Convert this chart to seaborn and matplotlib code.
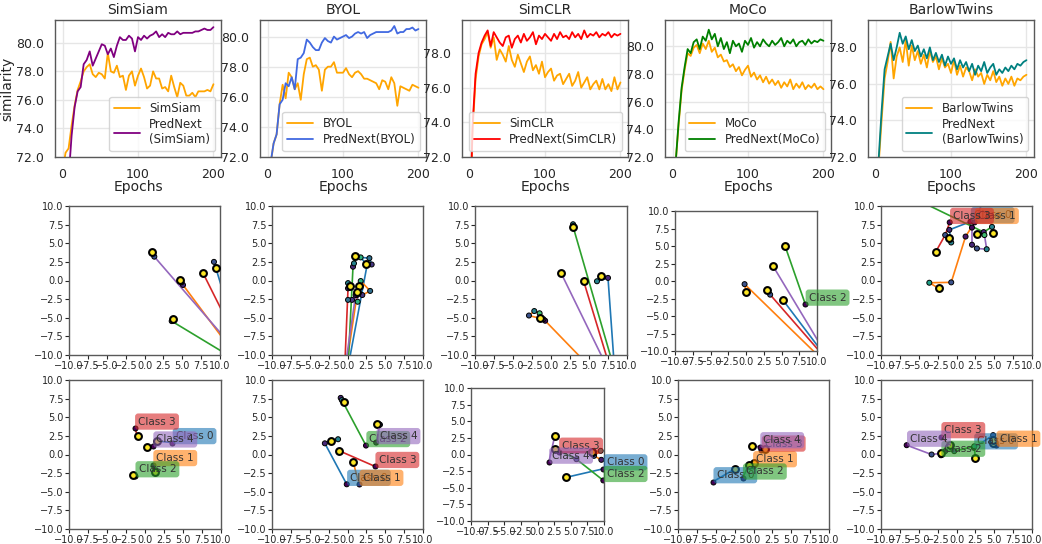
import numpy as np
import pandas as pd
import seaborn as sns
import matplotlib.pyplot as plt
from matplotlib.ticker import FormatStrFormatter, MultipleLocator

sns.set_theme(style="whitegrid", rc={"axes.edgecolor": ".35", "axes.linewidth": 1.0, "grid.color": ".9"})
plt.rcParams["font.family"] = ["DejaVu Sans"]

# ---- top row: similarity curves (every 4 epochs) ----
epochs = list(range(0, 201, 4))

simsiam = [71.0, 72.3, 72.6, 74.2, 75.6, 76.7, 77.3, 78.0, 78.3, 78.5,
           77.8, 77.6, 77.9, 77.8, 77.5, 79.3, 78.0, 77.9, 78.4, 77.6,
           77.7, 76.7, 77.7, 78.0, 77.0, 77.7, 78.2, 77.6, 76.8, 77.0,
           78.0, 77.5, 77.5, 76.8, 76.9, 76.6, 77.7, 76.9, 76.2, 77.2,
           77.0, 76.3, 76.3, 76.5, 76.2, 76.6, 76.6, 76.6, 76.7, 76.6, 77.1]
prednext_simsiam = [62.0, 66.0, 70.5, 73.5, 75.5, 76.6, 76.9, 78.5, 78.8, 79.4,
                    78.4, 78.9, 79.4, 79.9, 79.8, 79.2, 79.6, 79.0, 79.8, 80.4,
                    80.2, 80.2, 80.5, 80.3, 79.4, 80.4, 80.2, 80.5, 80.3, 80.5,
                    80.6, 80.8, 80.4, 80.6, 80.4, 80.7, 80.6, 80.6, 80.8, 80.6,
                    80.7, 80.7, 80.7, 80.7, 80.8, 80.8, 80.9, 81.0, 80.9, 80.9, 81.1]
byol = [70.0, 71.5, 72.9, 73.5, 75.5, 76.8, 75.9, 77.6, 77.3, 76.5,
        76.9, 75.8, 77.5, 78.5, 78.6, 78.0, 78.1, 77.8, 76.4, 77.8,
        78.0, 78.0, 78.3, 77.6, 77.6, 77.6, 77.9, 77.5, 77.3, 77.6,
        77.7, 77.5, 77.2, 77.2, 77.1, 77.0, 76.9, 76.5, 77.1, 77.0,
        76.5, 77.3, 76.9, 75.4, 76.7, 76.6, 76.5, 76.4, 76.8, 76.7, 76.6]
prednext_byol = [70.0, 71.6, 72.9, 73.5, 75.5, 75.8, 76.9, 76.7, 77.3, 76.5,
                 78.5, 78.6, 78.9, 79.8, 79.6, 79.3, 79.1, 79.1, 79.6, 79.9,
                 79.7, 79.6, 80.0, 79.8, 79.9, 80.0, 80.1, 79.9, 80.0, 80.2,
                 80.3, 80.2, 80.3, 79.9, 80.1, 80.2, 80.3, 80.3, 80.3, 80.3,
                 80.3, 80.4, 80.7, 80.2, 80.3, 80.3, 80.5, 80.5, 80.6, 80.4, 80.5]
simclr = [68.0, 73.5, 76.5, 77.8, 78.5, 78.8, 79.2, 78.3, 78.9, 77.6,
          78.2, 77.9, 77.5, 78.4, 77.6, 77.2, 77.9, 77.4, 76.9, 77.5,
          77.8, 77.0, 77.3, 76.8, 77.5, 76.6, 76.9, 77.1, 76.4, 76.7,
          76.8, 76.2, 76.5, 76.8, 76.1, 76.4, 76.9, 76.0, 76.3, 76.6,
          75.9, 76.2, 76.4, 75.9, 76.5, 75.9, 76.2, 75.8, 76.6, 75.9, 76.3]
prednext_simclr = [67.0, 73.8, 76.8, 78.0, 78.6, 79.0, 79.3, 78.4, 79.2, 78.9,
                   78.6, 78.4, 78.9, 79.0, 78.3, 78.8, 79.0, 78.6, 79.1, 78.7,
                   78.9, 79.2, 78.5, 79.0, 78.8, 79.1, 78.9, 78.7, 79.1, 78.8,
                   79.2, 78.9, 79.0, 78.8, 79.2, 78.9, 79.1, 78.8, 79.3, 78.9,
                   79.1, 79.0, 79.2, 78.9, 79.1, 79.0, 79.2, 78.9, 79.1, 79.0, 79.1]
moco = [66.0, 71.5, 74.3, 76.8, 78.3, 79.5, 79.3, 79.9, 80.1, 79.5,
        80.2, 79.8, 80.4, 79.6, 79.9, 79.2, 79.4, 78.9, 79.0, 78.5,
        78.7, 78.2, 78.5, 77.9, 78.3, 78.6, 77.8, 78.1, 77.6, 77.9,
        77.4, 77.8, 77.3, 77.6, 77.2, 77.5, 77.0, 77.4, 77.1, 77.6,
        76.9, 77.3, 77.0, 77.4, 76.9, 77.2, 77.0, 77.3, 76.9, 77.1, 76.9]
prednext_moco = [66.0, 71.5, 74.5, 77.0, 78.5, 79.8, 79.5, 80.3, 80.5, 79.8,
                 80.7, 80.4, 81.2, 80.5, 80.9, 80.0, 80.6, 79.8, 80.3, 79.5,
                 80.4, 80.0, 80.2, 79.6, 80.4, 80.1, 80.6, 79.9, 80.3, 80.0,
                 80.5, 80.2, 80.0, 80.4, 80.1, 80.3, 80.6, 80.0, 80.4, 80.2,
                 80.5, 80.0, 80.3, 80.4, 80.1, 80.5, 80.2, 80.4, 80.3, 80.5, 80.4]
barlow = [68.0, 71.5, 74.0, 76.3, 77.2, 78.3, 76.3, 77.5, 78.0, 77.2,
          78.4, 77.0, 78.1, 77.3, 77.8, 77.1, 77.6, 76.9, 77.8, 77.2,
          77.5, 76.8, 77.4, 76.9, 77.1, 76.6, 77.3, 76.5, 77.0, 76.4,
          76.9, 76.7, 76.2, 76.8, 76.4, 76.6, 76.0, 76.5, 76.2, 76.7,
          76.1, 76.4, 75.9, 76.3, 76.0, 76.4, 75.9, 76.3, 76.2, 76.4, 76.5]
prednext_barlow = [67.0, 71.8, 74.5, 76.8, 77.5, 78.2, 77.3, 78.0, 78.8, 78.2,
                   78.6, 77.9, 78.4, 77.8, 78.1, 77.5, 77.9, 77.4, 78.0, 77.3,
                   77.7, 77.2, 77.6, 77.0, 77.5, 77.1, 77.4, 76.8, 77.3, 76.9,
                   77.2, 76.7, 77.1, 76.5, 77.0, 76.7, 77.2, 76.6, 76.9, 77.1,
                   76.5, 76.8, 76.6, 76.9, 76.7, 77.0, 76.8, 77.1, 77.0, 77.2, 77.3]

methods = ["SimSiam", "BYOL", "SimCLR", "MoCo", "BarlowTwins"]
base_curves = [simsiam, byol, simclr, moco, barlow]
pred_curves = [prednext_simsiam, prednext_byol, prednext_simclr, prednext_moco, prednext_barlow]
pred_labels = ["PredNext\n(SimSiam)", "PredNext(BYOL)", "PredNext(SimCLR)",
               "PredNext(MoCo)", "PredNext\n(BarlowTwins)"]
pred_colors = ["purple", "royalblue", "red", "green", "teal"]
y_tops = [81.6, 81.1, 79.9, 81.9, 79.5]

# ---- rows 2 and 3: class trajectories, first point carries the label ----
mid_simsiam = [
    [(11.0, -3.5), (9.2, 2.5), (9.5, 1.7)],
    [(11.8, -9.7), (5.1, -0.6), (4.9, -0.25), (4.7, 0.05)],
    [(12.5, -10.9), (3.6, -5.45), (3.8, -5.2)],
    [(12.0, -7.6), (7.75, 1.0)],
    [(12.0, -9.3), (1.3, 3.2), (0.95, 3.85)],
]
mid_byol = [
    [(0.0, -12.0), (2.6, 2.1), (3.2, 2.15), (2.9, 3.0), (1.74, 3.1), (2.5, 2.2)],
    [(-0.23, -12.0), (1.26, -1.95), (1.96, -1.95), (3.0, -1.4), (1.75, -0.07), (1.5, -0.8)],
    [(0.05, -12.0), (0.73, 1.85), (0.86, 2.3), (0.95, 3.3)],
    [(-0.38, -12.0), (0.07, -1.05), (0.07, -0.35), (0.37, -0.7)],
    [(-0.36, -12.0), (1.08, -1.95), (0.6, -2.6), (0.07, -2.6), (1.35, -2.85), (1.26, -1.6)],
]
mid_simclr = [
    [(8.4, -12.5), (7.5, 0.35), (6.05, -0.1), (6.6, 0.55)],
    [(5.5, -12.0), (-0.77, -5.4), (-1.0, -5.2), (-2.9, -4.7), (-2.2, -4.1), (-1.5, -4.4), (-1.43, -5.1)],
    [(8.5, -12.5), (2.97, 7.0), (2.9, 7.55), (2.83, 7.2)],
    [(8.0, -12.5), (4.3, -0.1)],
    [(7.7, -12.3), (1.35, 0.95)],
]
mid_moco = [
    [(11.0, -10.5), (5.15, -2.65)],
    [(10.5, -11.0), (-0.2, -0.45), (0.0, -1.5)],
    [(8.35, -3.3), (5.5, 5.0)],
    [(11.0, -10.8), (3.4, -1.95), (3.0, -1.35)],
    [(11.0, -10.0), (3.8, 2.15)],
]
mid_barlow = [
    [(1.85, 7.9), (-0.95, 6.8), (-0.7, 5.1), (-0.95, 5.7)],
    [(2.4, 7.8), (1.2, 5.9), (-0.7, -0.25), (-3.6, -0.3), (-2.35, -1.05)],
    [(-8.0, 12.2), (3.6, 6.5), (4.7, 7.2), (4.8, 6.4)],
    [(-0.9, 7.8), (-1.5, 6.1), (-2.75, 3.85)],
    [(4.5, 13.0), (2.05, 7.1), (2.05, 4.8), (2.7, 4.3), (4.0, 4.2), (3.7, 6.1), (2.7, 6.3)],
]
bot_simsiam = [
    [(3.6, 1.6), (1.63, 1.8)],
    [(1.05, -1.35), (1.3, -2.3)],
    [(-1.3, -2.85), (-1.6, -2.75)],
    [(-1.35, 3.55), (-0.97, 2.47)],
    [(1.05, 1.15), (0.22, 1.05)],
]
bot_byol = [
    [(-0.1, -4.0), (-3.0, 1.5), (-1.25, 2.05), (-2.15, 1.8)],
    [(1.55, -4.0), (0.73, -0.95)],
    [(2.45, 1.2), (-0.9, 7.6), (-0.75, 7.3), (-0.45, 7.05)],
    [(3.65, -1.6), (-1.1, 0.5)],
    [(3.8, 1.6), (4.3, 4.0), (3.9, 4.05)],
]
bot_simclr = [
    [(9.9, -2.15), (4.25, -3.45)],
    [(10.6, -1.3), (9.6, -0.8), (8.5, -0.2), (9.5, 0.55), (8.2, 0.35)],
    [(9.9, -3.9), (5.85, -0.7), (2.6, 0.85)],
    [(3.2, 0.35), (8.2, 0.35)],
    [(1.7, -1.15), (2.6, 2.8)],
]
bot_moco = [
    [(-5.35, -3.65), (-2.5, -1.95)],
    [(-0.1, -1.5), (0.0, -1.2)],
    [(-1.45, -3.15), (-0.6, -1.35)],
    [(1.05, 0.6), (1.5, 0.8)],
    [(0.85, 1.05), (-0.2, 1.1)],
]
bot_barlow = [
    [(2.3, 0.9), (4.85, 2.6), (4.85, 1.5)],
    [(5.25, 1.25), (4.9, 1.9)],
    [(-2.05, -0.1), (-1.5, 0.45), (-0.3, 0.45), (2.35, 1.1), (2.5, -0.5)],
    [(-2.05, 2.4), (-0.9, 1.25)],
    [(-6.6, 1.25), (-3.3, 0.0), (-2.1, 0.15)],
]
mid_panels = [mid_simsiam, mid_byol, mid_simclr, mid_moco, mid_barlow]
bot_panels = [bot_simsiam, bot_byol, bot_simclr, bot_moco, bot_barlow]
class_names = ["Class 0", "Class 1", "Class 2", "Class 3", "Class 4"]
class_colors = sns.color_palette("tab10", 5)

W, H = 1042, 544
fig = plt.figure(figsize=(W / 100, H / 100), dpi=100)


def px_box(left, top, w, h):
    return [left / W, 1 - (top + h) / H, w / W, h / H]


top_lefts = [55, 260, 462, 665, 868]
for i, name in enumerate(methods):
    ax = fig.add_axes(px_box(top_lefts[i], 20, 166, 137))
    df = pd.DataFrame({"epoch": epochs, "base": base_curves[i], "pred": pred_curves[i]})
    sns.lineplot(data=df, x="epoch", y="base", color="orange", lw=1.3, label=name, ax=ax)
    sns.lineplot(data=df, x="epoch", y="pred", color=pred_colors[i], lw=1.3, label=pred_labels[i], ax=ax)
    ax.set_ylim(72, y_tops[i])
    ax.set_xticks([0, 100, 200])
    ax.yaxis.set_major_locator(MultipleLocator(2))
    ax.yaxis.set_major_formatter(FormatStrFormatter("%.1f"))
    ax.tick_params(labelsize=9, pad=2)
    ax.set_title(name, fontsize=10, pad=4)
    ax.set_xlabel("Epochs", fontsize=10, labelpad=-1)
    ax.set_ylabel("similarity" if i == 0 else "", fontsize=10, labelpad=1)
    ax.legend(loc="lower right", fontsize=8.5, handlelength=2.2, borderpad=0.4, labelspacing=0.3)

cmap = plt.get_cmap("viridis")


def draw_panel(ax, trajs):
    for c, pts in enumerate(trajs):
        xs = [p[0] for p in pts]
        ys = [p[1] for p in pts]
        ax.plot(xs, ys, color=class_colors[c], lw=1.2, zorder=1)
        t = np.linspace(0, 1, len(pts)) ** 2
        ax.scatter(xs[:-1], ys[:-1], c=cmap(t[:-1]), s=13, edgecolors="black", linewidths=0.7, zorder=2)
        ax.scatter(xs[-1:], ys[-1:], color=cmap(1.0), s=24, edgecolors="black", linewidths=1.5, zorder=3)
        ax.annotate(class_names[c], xy=pts[0], xytext=(2.5, 2.5), textcoords="offset points",
                    fontsize=7.5, color=".2",
                    bbox=dict(boxstyle="round,pad=0.3", fc=class_colors[c], ec="none", alpha=0.6),
                    zorder=4)
    ax.set_xlim(-10, 10)
    ax.set_ylim(-10, 10)
    ax.xaxis.set_major_locator(MultipleLocator(2.5))
    ax.yaxis.set_major_locator(MultipleLocator(2.5))
    ax.grid(False)
    ax.tick_params(labelsize=7, length=3, width=0.8, bottom=True, left=True, pad=1)


mid_boxes = [(69, 206, 151, 149), (272, 206, 151, 149), (475, 206, 152, 149),
             (675, 211, 142, 140), (881, 206, 151, 149)]
bot_boxes = [(69, 380, 152, 149), (272, 380, 151, 149), (471, 388, 133, 133),
             (678, 380, 151, 149), (881, 380, 151, 149)]
for i in range(5):
    draw_panel(fig.add_axes(px_box(*mid_boxes[i])), mid_panels[i])
    draw_panel(fig.add_axes(px_box(*bot_boxes[i])), bot_panels[i])

fig.savefig("out.png", dpi=100)
